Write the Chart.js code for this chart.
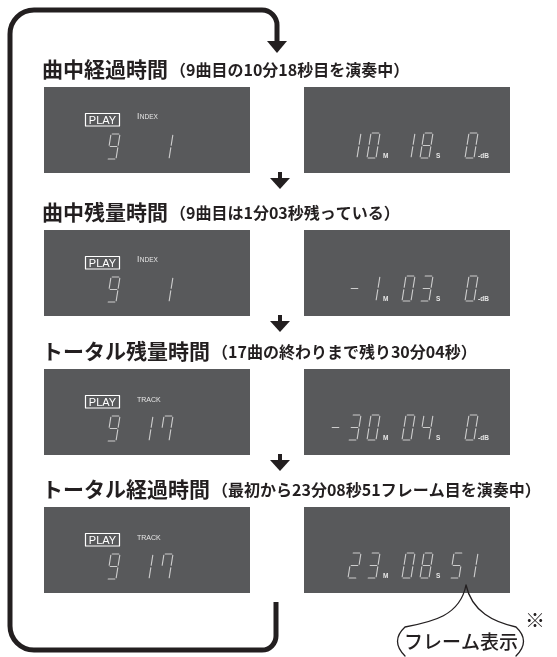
<!DOCTYPE html>
<html>
<head>
<meta charset="utf-8">
<script src="https://cdn.jsdelivr.net/npm/chart.js@4.4.0/dist/chart.umd.min.js"></script>
<style>
  html, body { margin: 0; padding: 0; background: #fff; }
  canvas { display: block; }
</style>
</head>
<body>
<canvas id="c" width="557" height="657"></canvas>
<script>
// 表示モードごとの内容
const titles = ['曲中経過時間', '曲中残量時間', 'トータル残量時間', 'トータル経過時間'];
const notes = [
    '（9曲目の10分18秒目を演奏中）',
    '（9曲目は1分03秒残っている）',
    '（17曲の終わりまで残り30分04秒）',
    '（最初から23分08秒51フレーム目を演奏中）'
];
const trackNums = ['9', '9', '9', '9'];
const subLabels = ['INDEX', 'INDEX', 'TRACK', 'TRACK'];
const subNums = ['1', '1', '17', '17'];
const minutes = ['10', '-1', '-30', '23'];
const seconds = ['18', '03', '04', '08'];
const thirdField = ['0', '0', '0', '51'];
const thirdUnit = ['-dB', '-dB', '-dB', ''];
const calloutText = 'フレーム表示';

const JP = "'Noto Sans CJK JP', 'Noto Sans', sans-serif";
const LAT = "'Liberation Sans', Arial, sans-serif";
const INK = '#231f20';
const PANEL = '#58595b';
const SEG = '#cdcdcd';

const SEGMENTS = {
    '0': 'abcdef', '1': 'bc', '2': 'abged', '3': 'abgcd', '4': 'fgbc',
    '5': 'afgcd', '6': 'afgedc', '7': 'afbc', '8': 'abcdefg', '9': 'abcdfg',
    '-': 'g', ' ': ''
};

const panelTops = [87, 230, 369, 507];

function drawDigit(ctx, X, Y, ch, x, y) {
    const w = 9, h = 25, s = 4, g = 1.2;
    const P = (u, v) => [X(x + u + s * (1 - v / h)), Y(y + v)];
    const segs = {
        a: [[g, 0], [w - g, 0]],
        b: [[w, g], [w, h / 2 - g]],
        c: [[w, h / 2 + g], [w, h - g]],
        d: [[g, h], [w - g, h]],
        e: [[0, h / 2 + g], [0, h - g]],
        f: [[0, g], [0, h / 2 - g]],
        g: [[g, h / 2], [w - g, h / 2]]
    };
    ctx.strokeStyle = SEG;
    ctx.lineWidth = 1.1;
    ctx.lineCap = 'round';
    for (const k of (SEGMENTS[ch] || '')) {
        const [p0, p1] = segs[k];
        ctx.beginPath();
        ctx.moveTo(...P(...p0));
        ctx.lineTo(...P(...p1));
        ctx.stroke();
    }
}

function drawField(ctx, X, Y, str, slots, y) {
    const chars = str.split('');
    const offset = slots.length - chars.length;
    chars.forEach((ch, i) => drawDigit(ctx, X, Y, ch, slots[i + offset], y));
}

function arrowDown(ctx, X, Y, x, top, len) {
    ctx.fillStyle = INK;
    ctx.fillRect(X(x - 2), Y(top), 4, len - 8);
    ctx.beginPath();
    ctx.moveTo(X(x - 10), Y(top + len - 11));
    ctx.lineTo(X(x + 10), Y(top + len - 11));
    ctx.lineTo(X(x), Y(top + len));
    ctx.closePath();
    ctx.fill();
}

const displayPlugin = {
    id: 'cdDisplay',
    afterDraw(chart) {
        const ctx = chart.ctx;
        const X = v => chart.scales.x.getPixelForValue(v);
        const Y = v => chart.scales.y.getPixelForValue(v);
        ctx.save();

        // ループの太線
        ctx.strokeStyle = INK;
        ctx.lineWidth = 5;
        ctx.lineJoin = 'round';
        ctx.beginPath();
        ctx.moveTo(X(276), Y(602));
        ctx.lineTo(X(276), Y(636));
        ctx.arcTo(X(276), Y(650), X(262), Y(650), 14);
        ctx.lineTo(X(34), Y(650));
        ctx.arcTo(X(10), Y(650), X(10), Y(626), 24);
        ctx.lineTo(X(10), Y(34));
        ctx.arcTo(X(10), Y(10), X(34), Y(10), 24);
        ctx.lineTo(X(262), Y(10));
        ctx.arcTo(X(277), Y(10), X(277), Y(25), 15);
        ctx.lineTo(X(277), Y(44));
        ctx.stroke();
        ctx.fillStyle = INK;
        ctx.beginPath();
        ctx.moveTo(X(267), Y(41));
        ctx.lineTo(X(287), Y(41));
        ctx.lineTo(X(277), Y(53));
        ctx.closePath();
        ctx.fill();

        titles.forEach((t, i) => {
            const top = panelTops[i];
            const ty = top - 18;

            // 見出し
            ctx.fillStyle = INK;
            ctx.textBaseline = 'middle';
            ctx.textAlign = 'left';
            ctx.font = 'bold 21px ' + JP;
            ctx.fillText(t, X(42), Y(ty));
            const tw = ctx.measureText(t).width;
            ctx.font = 'bold 16px ' + JP;
            ctx.fillText(notes[i], X(44) + tw, Y(ty + 1));

            // 表示パネル
            ctx.fillStyle = PANEL;
            ctx.fillRect(X(44), Y(top), X(250) - X(44), Y(top + 86) - Y(top));
            ctx.fillRect(X(304), Y(top), X(510) - X(304), Y(top + 86) - Y(top));

            // PLAY
            ctx.strokeStyle = '#ffffff';
            ctx.lineWidth = 1.2;
            ctx.strokeRect(X(85.5), Y(top + 26.5), 34, 12.5);
            ctx.fillStyle = '#ffffff';
            ctx.font = '11px ' + LAT;
            ctx.textAlign = 'center';
            ctx.fillText('PLAY', X(102.5), Y(top + 33.5));
            ctx.textAlign = 'left';
            ctx.fillStyle = '#e6e6e6';
            const lab = subLabels[i];
            if (lab === 'INDEX') {
                ctx.font = '8.5px ' + LAT;
                ctx.fillText('I', X(137), Y(top + 30));
                const iw = ctx.measureText('I').width;
                ctx.font = '6.5px ' + LAT;
                ctx.fillText('NDEX', X(137) + iw + 0.5, Y(top + 30.5));
            } else {
                ctx.font = '7px ' + LAT;
                ctx.fillText(lab, X(137), Y(top + 31));
            }

            drawField(ctx, X, Y, trackNums[i], [87, 107], top + 47);
            drawField(ctx, X, Y, subNums[i], [140, 160], top + 47);

            drawField(ctx, X, Y, minutes[i], [329, 348, 367], top + 46);
            drawField(ctx, X, Y, seconds[i], [402, 420], top + 46);
            drawField(ctx, X, Y, thirdField[i], [450, 465], top + 46);

            ctx.fillStyle = '#e6e6e6';
            ctx.font = 'bold 6.5px ' + LAT;
            ctx.textBaseline = 'alphabetic';
            ctx.fillText('M', X(383), Y(top + 71));
            ctx.fillText('S', X(436), Y(top + 71));
            if (thirdUnit[i]) ctx.fillText(thirdUnit[i], X(478), Y(top + 71));
            ctx.textBaseline = 'middle';

            if (i > 0) arrowDown(ctx, X, Y, 280, panelTops[i - 1] + 85, 17);
        });

        // フレーム表示の吹き出し
        ctx.strokeStyle = INK;
        ctx.lineWidth = 1.3;
        ctx.beginPath();
        ctx.moveTo(X(405), Y(656));
        ctx.quadraticCurveTo(X(390), Y(641), X(405), Y(627));
        ctx.bezierCurveTo(X(432), Y(622), X(460), Y(616), X(466), Y(585));
        ctx.bezierCurveTo(X(472), Y(612), X(494), Y(622), X(516), Y(627));
        ctx.quadraticCurveTo(X(531), Y(641), X(516), Y(656));
        ctx.stroke();

        ctx.fillStyle = INK;
        ctx.textAlign = 'center';
        ctx.font = '500 19px ' + JP;
        ctx.fillText(calloutText, X(461), Y(642));
        ctx.font = '20px ' + JP;
        ctx.fillText('※', X(535), Y(620));

        ctx.restore();
    }
};

new Chart(document.getElementById('c'), {
    type: 'scatter',
    data: { datasets: [{ data: [], pointRadius: 0 }] },
    options: {
        responsive: false,
        animation: false,
        events: [],
        layout: { padding: 0 },
        plugins: {
            legend: { display: false },
            tooltip: { enabled: false }
        },
        scales: {
            x: { type: 'linear', min: 0, max: 557, display: false },
            y: { type: 'linear', min: 0, max: 657, reverse: true, display: false }
        }
    },
    plugins: [displayPlugin]
});
</script>
</body>
</html>
